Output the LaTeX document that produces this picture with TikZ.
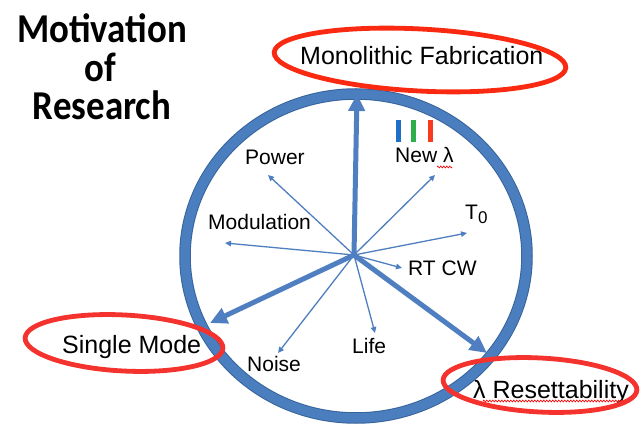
\documentclass[tikz,border=0pt]{standalone}
\usepackage{fontspec}
\setmainfont{Liberation Sans}
\newfontfamily\titlefont{Carlito}
\usetikzlibrary{arrows.meta,decorations.pathmorphing}
\definecolor{ringblue}{HTML}{4A7EBF}
\definecolor{ringedge}{HTML}{36639A}
\definecolor{arrowblue}{HTML}{4F7FC0}
\definecolor{loopred}{HTML}{F5332E}
\definecolor{looporange}{HTML}{FA2A12}
\definecolor{barblue}{HTML}{1F6FC9}
\definecolor{bargreen}{HTML}{2DAE4B}
\definecolor{barred}{HTML}{F83A1F}
\newcommand{\ttlbox}[1]{\scalebox{0.9}[1]{#1}}
\begin{document}
\begin{tikzpicture}[x=1pt,y=-1pt,
  titletext/.style={font=\titlefont\bfseries\fontsize{41}{41}\selectfont, anchor=base, inner sep=0pt},
  biglabel/.style={font=\fontsize{25}{30}\selectfont, anchor=base west, inner sep=0pt},
  smalllabel/.style={font=\fontsize{21}{25}\selectfont, anchor=base west, inner sep=0pt},
  thickarrow/.style={draw=arrowblue, line width=5pt, -{Triangle[length=17pt,width=16pt]}},
  thinarrow/.style={draw=arrowblue, line width=1.3pt, -{Triangle[length=6pt,width=5.5pt]}},
  handloop/.style={line width=4.8pt},
  spell/.style={draw=red, line width=0.6pt, decorate, decoration={zigzag, amplitude=1pt, segment length=3pt}},
  bar/.style={line width=5.5pt}
]
\useasboundingbox[fill=white] (0,0) rectangle (640,438);

% title
\node[titletext] (t1) at (102,43) {\ttlbox{Motivation}};
\node[titletext] (t2) at (100,82) {\ttlbox{of}};
\node[titletext] (t3) at (102,120) {\ttlbox{Research}};

% ring
\coordinate (ringc) at (356,256);
\draw[ringedge, line width=11.5pt] (ringc) ellipse [x radius=171, y radius=162];
\draw[ringblue, line width=9.5pt] (ringc) ellipse [x radius=171, y radius=162];

% labels
\node[biglabel] (mono) at (300,65) {Monolithic Fabrication};
\node[biglabel] (single) at (62,353) {Single Mode};
\node[biglabel] (reset) at (473,398) {λ Resettability};

\node[smalllabel] (power) at (245,165) {Power};
\node[smalllabel] (modul) at (208,230) {Modulation};
\node[smalllabel] (noise) at (247,371) {Noise};
\node[smalllabel] (life) at (352,353) {Life};
\node[smalllabel] (rtcw) at (408,276) {RT CW};
\node[smalllabel] (tzero) at (465,220) {T\raisebox{-3.5pt}{\fontsize{17}{17}\selectfont 0}};
\node[smalllabel] (newl) at (395,163) {New λ};

% colour bars
\draw[bar, barblue] (398.5,120) -- (398.5,142);
\draw[bar, bargreen] (413.5,120) -- (413.5,142);
\draw[bar, barred] (430.5,120) -- (430.5,142);

% spell-check squiggles
\draw[spell] (437,167) -- (452,167);
\draw[spell] (483,401) -- (630,401);

% arrows
\coordinate (hub) at (354,255);
\coordinate (tipTop) at (357,94);
\coordinate (tipSingle) at (210,323);
\coordinate (tipReset) at (487,353);
\coordinate (tipPower) at (268,175);
\coordinate (tipModul) at (225,243);
\coordinate (tipNoise) at (278,353);
\coordinate (tipLife) at (375,333);
\coordinate (tipRT) at (402,268);
\coordinate (tipT) at (467,233);
\coordinate (tipNew) at (435,175);

\draw[thinarrow] (hub) -- (tipPower);
\draw[thinarrow] (hub) -- (tipModul);
\draw[thinarrow] (hub) -- (tipNoise);
\draw[thinarrow] (hub) -- (tipLife);
\draw[thinarrow] (hub) -- (tipRT);
\draw[thinarrow] (hub) -- (tipT);
\draw[thinarrow] (hub) -- (tipNew);
\draw[thickarrow] (hub) -- (tipTop);
\draw[thickarrow] (hub) -- (tipSingle);
\draw[thickarrow] (hub) -- (tipReset);

% hand-drawn loops
\draw[handloop, looporange, rotate around={-3:(420,60)}] (420,60) ellipse [x radius=146, y radius=31];
\draw[handloop, loopred, rotate around={-3:(124,343)}] (124,343) ellipse [x radius=99, y radius=28];
\draw[handloop, loopred, rotate around={-3:(540,385)}] (540,385) ellipse [x radius=97, y radius=27];
\end{tikzpicture}
\end{document}
